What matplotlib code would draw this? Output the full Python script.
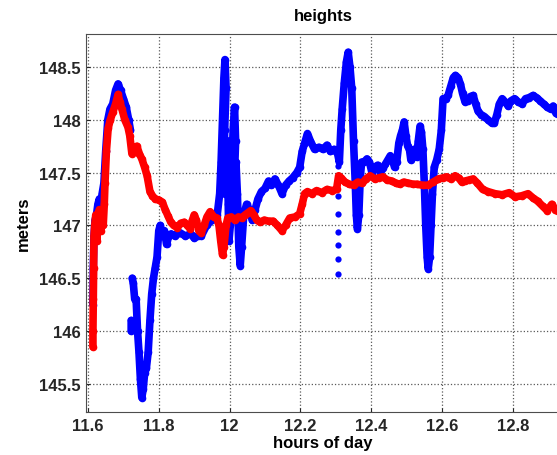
import numpy as np
import matplotlib.pyplot as plt
from matplotlib.ticker import MultipleLocator

plt.rcParams['font.family'] = ['Liberation Sans', 'DejaVu Sans']
plt.rcParams['font.weight'] = 'bold'

# blue series (hours, meters); NaN splits the trace
t_blue = [11.614, 11.615, 11.617, 11.620, 11.624, 11.628, 11.632, 11.636, 11.640, 11.645,
          11.650, 11.656, 11.662, 11.670, 11.678, 11.685, 11.692, 11.700, 11.708, 11.715,
          11.720, np.nan,
          11.722, 11.722, np.nan,
          11.725, 11.728, 11.732, 11.736, 11.740, 11.744, 11.748, 11.752, 11.756, 11.760,
          11.765, 11.770, 11.775, 11.780, 11.785, 11.790, 11.795, 11.800, 11.804, 11.810,
          11.816, 11.822, 11.828, 11.835, 11.845, 11.860, 11.875, 11.890, 11.900, 11.910,
          11.920, 11.935, 11.950, 11.965, 11.972, 11.976, 11.980, 11.984, 11.987, 11.990,
          11.986, 11.983, 11.988, 11.993, 11.996, 11.998, 12.002, 12.006, 12.010, 12.014,
          12.017, 12.013, 12.018, 12.022, 12.026,
          12.030, 12.034, 12.040, 12.048, 12.056, 12.064, 12.072, 12.080, 12.090, 12.100,
          12.110, 12.118, 12.128, 12.138, 12.148, 12.158, 12.168, 12.178, 12.190, 12.198,
          12.205, 12.212, 12.220, 12.228, 12.240, 12.252, 12.264, 12.275, 12.285, 12.295,
          12.305, 12.310, 12.314, 12.318, 12.324, 12.330, 12.335, 12.340, 12.345, 12.350,
          12.355, 12.358, 12.361, 12.365, 12.369, 12.373, 12.380, 12.388, 12.395, 12.402,
          12.410, 12.418, 12.426, 12.433, 12.440, 12.447, 12.454, 12.460, 12.466, 12.472,
          12.478, 12.483, 12.488, 12.493, 12.498, 12.503, 12.508, 12.512, 12.517, 12.522,
          12.528, 12.533, 12.538, 12.542, 12.546, 12.550, 12.554, 12.558, 12.561, 12.565,
          12.569, 12.573, 12.578, 12.585, 12.592, 12.598, 12.603, 12.610, 12.617, 12.625,
          12.632, 12.638, 12.645, 12.652, 12.658, 12.665, 12.672, 12.680, 12.688, 12.695,
          12.702, 12.710, 12.720, 12.730, 12.740, 12.748, 12.755, 12.762, 12.770, 12.778,
          12.787, 12.795, 12.805, 12.815, 12.826, 12.836, 12.846, 12.857, 12.867, 12.877,
          12.887, 12.897, 12.907, 12.914, 12.922, 12.932]
h_blue = [146.25, 146.60, 146.90, 147.05, 147.10, 147.20, 147.25, 147.15, 147.30, 147.40,
          147.70, 148.00, 148.10, 148.15, 148.28, 148.34, 148.28, 148.20, 148.12, 148.00,
          147.90, np.nan,
          146.10, 146.00, np.nan,
          146.50, 146.45, 146.30, 146.30, 146.00, 145.80, 145.55, 145.37, 145.45, 145.60,
          145.65, 145.80, 146.10, 146.35, 146.50, 146.60, 146.70, 146.95, 147.00, 146.90,
          146.95, 146.82, 146.90, 146.92, 146.90, 146.93, 146.90, 146.92, 146.88, 146.90,
          146.90, 147.00, 147.05, 147.10, 147.30, 147.60, 148.00, 148.40, 148.57, 148.30,
          147.90, 147.40, 147.30, 147.80, 147.20, 146.85, 147.00, 147.50, 147.90, 148.12,
          147.80, 147.40, 147.60, 147.30, 146.80,
          146.62, 146.80, 147.10, 147.20, 147.15, 147.05, 147.15, 147.25, 147.32, 147.35,
          147.42, 147.38, 147.44, 147.38, 147.30, 147.38, 147.42, 147.45, 147.50, 147.55,
          147.70, 147.78, 147.87, 147.80, 147.72, 147.74, 147.72, 147.76, 147.70, 147.72,
          147.68, 147.60, 147.90, 148.10, 148.35, 148.55, 148.64, 148.50, 148.30, 147.80,
          147.40, 147.10, 146.97, 147.10, 147.45, 147.60, 147.60, 147.63, 147.60, 147.50,
          147.55, 147.57, 147.50, 147.54, 147.58, 147.62, 147.66, 147.62, 147.55, 147.60,
          147.78, 147.85, 147.90, 147.98, 147.85, 147.75, 147.72, 147.62, 147.65, 147.72,
          147.65, 147.80, 147.94, 147.88, 147.72, 147.40, 147.00, 146.70, 146.59, 146.70,
          147.00, 147.30, 147.55, 147.62, 147.72, 147.90, 148.20, 148.20, 148.23, 148.32,
          148.40, 148.42, 148.40, 148.34, 148.25, 148.17, 148.18, 148.22, 148.23, 148.15,
          148.08, 148.05, 148.03, 148.00, 147.97, 147.97, 148.05, 148.15, 148.20, 148.17,
          148.13, 148.18, 148.20, 148.17, 148.15, 148.20, 148.21, 148.23, 148.21, 148.18,
          148.15, 148.12, 148.10, 148.13, 148.06, 148.04]

# isolated blue samples below the 12.31 spike
t_blue_drop = [12.306, 12.306, 12.306, 12.306, 12.306, 12.306, 12.306]
h_blue_drop = [147.56, 147.28, 147.11, 146.94, 146.81, 146.68, 146.54]

# red series
t_red = [11.614, 11.614, 11.615, 11.616, 11.617, 11.619, 11.622, 11.625, 11.628, 11.632,
         11.636, 11.640, 11.643, 11.646, 11.648, 11.652, 11.657, 11.663, 11.670, 11.678,
         11.685, 11.690, 11.696, 11.704, 11.713, 11.718, 11.724, 11.731, 11.738, 11.745,
         11.752, 11.760, 11.767, 11.775, 11.782, 11.790, 11.800, 11.810, 11.818, 11.826,
         11.834, 11.842, 11.852, 11.862, 11.872, 11.880, 11.888, 11.895, 11.900, 11.906,
         11.913, 11.920, 11.928, 11.936, 11.945, 11.955, 11.964, 11.970, 11.975, 11.980,
         11.984, 11.990, 11.995, 12.005, 12.015, 12.025, 12.035, 12.044, 12.052, 12.060,
         12.068, 12.077, 12.086, 12.098, 12.110, 12.123, 12.135, 12.148, 12.158, 12.170,
         12.185, 12.198, 12.205, 12.212, 12.220, 12.232, 12.246, 12.260, 12.275, 12.290,
         12.302, 12.308, 12.315, 12.326, 12.338, 12.350, 12.362, 12.375, 12.385, 12.397,
         12.410, 12.422, 12.433, 12.445, 12.458, 12.470, 12.480, 12.492, 12.505, 12.518,
         12.530, 12.545, 12.560, 12.575, 12.590, 12.603, 12.613, 12.625, 12.637, 12.647,
         12.656, 12.665, 12.676, 12.688, 12.700, 12.715, 12.730, 12.750, 12.770, 12.790,
         12.806, 12.825, 12.843, 12.857, 12.870, 12.885, 12.897, 12.910, 12.920, 12.932]
h_red = [145.85, 146.00, 146.30, 146.60, 146.90, 147.00, 147.10, 146.85, 147.05, 147.15,
         146.95, 147.10, 147.00, 147.20, 147.40, 147.70, 147.92, 148.00, 148.07, 148.15,
         148.24, 148.17, 148.10, 148.00, 147.93, 147.85, 147.68, 147.73, 147.75, 147.68,
         147.63, 147.55, 147.47, 147.32, 147.28, 147.25, 147.24, 147.22, 147.15, 147.09,
         147.03, 147.00, 146.98, 147.02, 147.03, 147.00, 146.97, 147.05, 147.10, 147.05,
         146.95, 146.93, 147.00, 147.08, 147.13, 147.08, 147.07, 147.00, 146.85, 146.72,
         146.80, 147.00, 147.07, 147.08, 147.05, 147.08, 147.07, 147.10, 147.12, 147.14,
         147.10, 147.05, 147.03, 147.05, 147.04, 147.04, 147.00, 146.95, 147.00, 147.07,
         147.08, 147.11, 147.20, 147.30, 147.32, 147.30, 147.33, 147.31, 147.34, 147.33,
         147.34, 147.47, 147.45, 147.41, 147.39, 147.38, 147.41, 147.40, 147.44, 147.47,
         147.44, 147.45, 147.46, 147.43, 147.42, 147.40, 147.39, 147.41, 147.40, 147.39,
         147.39, 147.38, 147.38, 147.41, 147.44, 147.45, 147.46, 147.44, 147.47, 147.45,
         147.41, 147.42, 147.43, 147.44, 147.40, 147.34, 147.32, 147.30, 147.29, 147.31,
         147.27, 147.28, 147.30, 147.26, 147.23, 147.18, 147.14, 147.20, 147.15, 147.12]

fig = plt.figure(figsize=(5.57, 4.56), dpi=100)
ax = fig.add_axes([0.1544, 0.0943, 0.851, 0.829])

estilo = dict(linestyle='-', linewidth=5.5, marker='o', markersize=5.5,
              markeredgewidth=0, solid_capstyle='round', solid_joinstyle='round')
ax.plot(t_blue, h_blue, color='#0000ff', **estilo)
ax.plot(t_blue_drop, h_blue_drop, 'o', color='#0000ff', markersize=4.5, markeredgewidth=0)
ax.plot(t_red, h_red, color='#ff0000', **estilo)

ax.set_xlim(11.5944, 12.9333)
ax.set_ylim(145.233, 148.8125)
ax.xaxis.set_major_locator(MultipleLocator(0.2))
ax.yaxis.set_major_locator(MultipleLocator(0.5))
ax.xaxis.set_major_formatter(plt.FuncFormatter(lambda v, p: f"{v:g}"))
ax.yaxis.set_major_formatter(plt.FuncFormatter(lambda v, p: f"{v:g}"))

ax.grid(True, linestyle=':', color='0.35', linewidth=0.9)
ax.tick_params(direction='in', length=3, labelsize=12, pad=4, colors='0.15')
for s in ax.spines.values():
    s.set_color('0.3')

ax.set_title("heights", fontsize=12, fontweight='bold', pad=10)
ax.set_xlabel("hours of day", fontsize=12, fontweight='bold', labelpad=2)
ax.set_ylabel("meters", fontsize=12, fontweight='bold', labelpad=6)

fig.savefig("out.png", dpi=100)
